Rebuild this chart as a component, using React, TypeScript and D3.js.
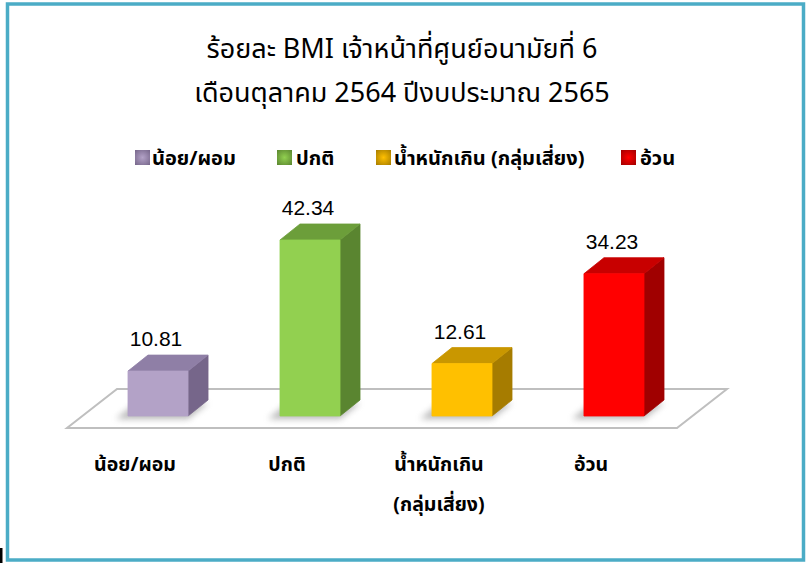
import React from "react";
import * as d3 from "d3";

const categories = ["น้อย/ผอม", "ปกติ", "น้ำหนักเกิน (กลุ่มเสี่ยง)", "อ้วน"];
const axisLabels = [["น้อย/ผอม"], ["ปกติ"], ["น้ำหนักเกิน", "(กลุ่มเสี่ยง)"], ["อ้วน"]];
const values = [10.81, 42.34, 12.61, 34.23];
const valueLabels = ["10.81", "42.34", "12.61", "34.23"];
const titleLines = ["ร้อยละ BMI เจ้าหน้าที่ศูนย์อนามัยที่ 6", "เดือนตุลาคม 2564 ปีงบประมาณ 2565"];

const frontColors = ["#B3A2C7", "#92D050", "#FFC000", "#FF0000"];
const topColors = ["#8F7FA6", "#6C9E3A", "#C99700", "#C80000"];
const sideColors = ["#76668A", "#5A8530", "#A67C00", "#A00000"];

const thaiFont = "Tahoma, 'Noto Sans Thai', 'Noto Sans Thai UI', 'Leelawadee UI', 'DejaVu Sans', sans-serif";

export default function App() {
  const W = 807, H = 563;
  const x = d3.scaleBand<string>().domain(categories).range([52, 720]).paddingInner(0.605).paddingOuter(0.5);
  const y = d3.scaleLinear().domain([0, 50]).range([416, 416 - 50 * 4.157]);
  const dx = 20, dy = -16;
  const bw = x.bandwidth();

  const floor = d3.line()([[67, 428], [677, 428], [727, 389], [117, 389]]) + "Z";

  const legendItems = [
    { sx: 135, tx: 152 },
    { sx: 277, tx: 296 },
    { sx: 376, tx: 394 },
    { sx: 621, tx: 640 },
  ];

  return (
    <svg width={W} height={H} style={{ position: "absolute", left: 0, top: 0 }} xmlns="http://www.w3.org/2000/svg">
      <defs>
        <filter id="blur" x="-50%" y="-50%" width="200%" height="200%">
          <feGaussianBlur stdDeviation="3" />
        </filter>
        {frontColors.map((c, i) => (
          <radialGradient id={`lg${i}`} key={i} cx="50%" cy="50%" r="70%">
            <stop offset="0%" stopColor={c} />
            <stop offset="100%" stopColor={sideColors[i]} />
          </radialGradient>
        ))}
      </defs>
      <rect x={0} y={0} width={W} height={H} fill="#ffffff" />
      <rect x={7.5} y={4} width={796} height={556} fill="#ffffff" stroke="#4BACC6" strokeWidth={3.5} />
      <rect x={0} y={548} width={2.5} height={15} fill="#000" />

      {titleLines.map((t, i) => (
        <text key={i} x={402} y={58 + i * 44} textAnchor="middle" fontFamily={thaiFont} fontSize={27} fill="#000">
          {t}
        </text>
      ))}

      {categories.map((c, i) => (
        <g key={c}>
          <rect x={legendItems[i].sx} y={150} width={15} height={15} fill={`url(#lg${i})`} />
          <text x={legendItems[i].tx} y={165} fontFamily={thaiFont} fontSize={20} fontWeight="bold" fill="#000">
            {c}
          </text>
        </g>
      ))}

      <path d={floor} fill="#ffffff" stroke="#BFBFBF" strokeWidth={2} />

      {categories.map((c, i) => {
        const x0 = x(c)!;
        const x1 = x0 + bw;
        const yb = y(0);
        const yt = y(values[i]);
        const shadow = d3.line()([[x0 - 12, yb + 3], [x1, yb + 3], [x1 + dx, yb + dy + 3], [x0 + dx - 12, yb + dy + 3]]) + "Z";
        const front = d3.line()([[x0, yt], [x1, yt], [x1, yb], [x0, yb]]) + "Z";
        const top = d3.line()([[x0, yt], [x0 + dx, yt + dy], [x1 + dx, yt + dy], [x1, yt]]) + "Z";
        const side = d3.line()([[x1, yt], [x1 + dx, yt + dy], [x1 + dx, yb + dy], [x1, yb]]) + "Z";
        return (
          <g key={c}>
            <path d={shadow} fill="#7f7f7f" opacity={0.55} filter="url(#blur)" />
            <path d={side} fill={sideColors[i]} stroke={sideColors[i]} strokeWidth={0.8} strokeLinejoin="round" />
            <path d={top} fill={topColors[i]} stroke={topColors[i]} strokeWidth={0.8} strokeLinejoin="round" />
            <path d={front} fill={frontColors[i]} stroke={frontColors[i]} strokeWidth={0.8} strokeLinejoin="round" />
            <text x={x0 + bw / 2 - 2} y={yt + dy - 9} textAnchor="middle" fontFamily="'Liberation Sans', Arial, sans-serif" fontSize={21} fill="#000">
              {valueLabels[i]}
            </text>
          </g>
        );
      })}

      {categories.map((c, i) => (
        <g key={c}>
          {axisLabels[i].map((line, j) => (
            <text key={j} x={x(c)! + bw / 2 - 23} y={471 + j * 40} textAnchor="middle" fontFamily={thaiFont} fontSize={19.5} fontWeight="bold" fill="#000">
              {line}
            </text>
          ))}
        </g>
      ))}
    </svg>
  );
}
